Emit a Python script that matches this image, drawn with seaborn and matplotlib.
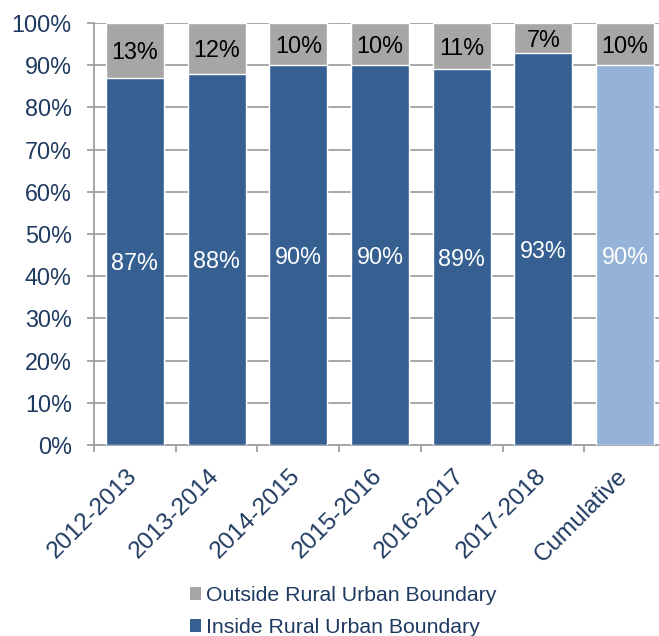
import matplotlib
matplotlib.use("Agg")
import matplotlib.pyplot as plt
import matplotlib.transforms as mtransforms
from matplotlib.patches import Patch
from matplotlib.ticker import FixedLocator, PercentFormatter
import pandas as pd
import seaborn as sns

# Share of units inside / outside the Rural Urban Boundary, by year
periods = ["2012-2013", "2013-2014", "2014-2015", "2015-2016",
           "2016-2017", "2017-2018", "Cumulative"]
inside_pct = [87, 88, 90, 90, 89, 93, 90]
outside_pct = [13, 12, 10, 10, 11, 7, 10]
y_ticks = list(range(0, 101, 10))
legend_labels = ["Outside Rural Urban Boundary", "Inside Rural Urban Boundary"]

DARK_BLUE = "#366092"
LIGHT_BLUE = "#95B3D7"
GREY = "#A6A6A6"
NAVY_TEXT = "#1F3A60"
GRID = "#A0A0A0"

sns.set_theme(style="white")
plt.rcParams["font.family"] = ["Liberation Sans", "DejaVu Sans"]

df = pd.DataFrame({"period": periods, "inside": inside_pct, "outside": outside_pct})
df["total"] = df["inside"] + df["outside"]

fig = plt.figure(figsize=(6.59, 6.36), dpi=100)
ax = fig.add_axes([94 / 659, 1 - 445 / 636, 572 / 659, 422 / 636])

# Full bar height in grey (outside share sits on top), inside share drawn over it
sns.barplot(data=df, x="period", y="total", color=GREY, width=0.71,
            saturation=1, ax=ax, zorder=2)
inside_colors = [DARK_BLUE] * (len(periods) - 1) + [LIGHT_BLUE]
sns.barplot(data=df, x="period", y="inside", hue="period", palette=inside_colors,
            legend=False, width=0.71, saturation=1, ax=ax, zorder=3)

for i, (ins, out) in enumerate(zip(inside_pct, outside_pct)):
    ax.text(i, ins / 2, f"{ins}%", ha="center", va="center_baseline",
            color="white", fontsize=16.8, zorder=4)
    ax.text(i, ins + out / 2, f"{out}%", ha="center", va="center_baseline",
            color="black", fontsize=16.8, zorder=4)

ax.set_xlim(-0.5, len(periods) - 0.5)
ax.set_ylim(0, 100)
ax.yaxis.set_major_locator(FixedLocator(y_ticks))
ax.yaxis.set_major_formatter(PercentFormatter(decimals=0))
ax.set_xlabel("")
ax.set_ylabel("")

ax.grid(axis="y", color=GRID, linewidth=1.3, zorder=0)
ax.set_axisbelow(True)
for side in ["top", "right"]:
    ax.spines[side].set_visible(False)
for side in ["left", "bottom"]:
    ax.spines[side].set_color(GRID)
    ax.spines[side].set_linewidth(1.3)

ax.tick_params(axis="y", which="major", left=True, length=5, width=1.3,
               color=GRID, pad=11, labelsize=16.8, labelcolor=NAVY_TEXT)
ax.tick_params(axis="x", which="major", bottom=False, length=0, pad=2,
               labelsize=17.5, labelcolor=NAVY_TEXT)
ax.xaxis.set_minor_locator(FixedLocator([i - 0.5 for i in range(len(periods) + 1)]))
ax.tick_params(axis="x", which="minor", bottom=True, length=5, width=1.3,
               color=GRID, direction="out")

# Rotated category labels, ending just below each bar's centre
offset = mtransforms.ScaledTranslation(-1 / 100, -25 / 100, fig.dpi_scale_trans)
for lbl in ax.get_xticklabels():
    lbl.set_rotation(45)
    lbl.set_rotation_mode("anchor")
    lbl.set_ha("right")
    lbl.set_va("center")
    lbl.set_transform(lbl.get_transform() + offset)

handles = [Patch(facecolor=GREY, edgecolor="none"),
           Patch(facecolor=DARK_BLUE, edgecolor="none")]
leg = fig.legend(handles, legend_labels, loc="upper left",
                 bbox_to_anchor=(190 / 659, 1 - 586 / 636), frameon=False,
                 fontsize=15.3, handlelength=0.52, handleheight=0.52,
                 handletextpad=0.23, labelspacing=0.62, borderpad=0,
                 borderaxespad=0)
for t in leg.get_texts():
    t.set_color(NAVY_TEXT)

fig.savefig("out.png", dpi=100)
